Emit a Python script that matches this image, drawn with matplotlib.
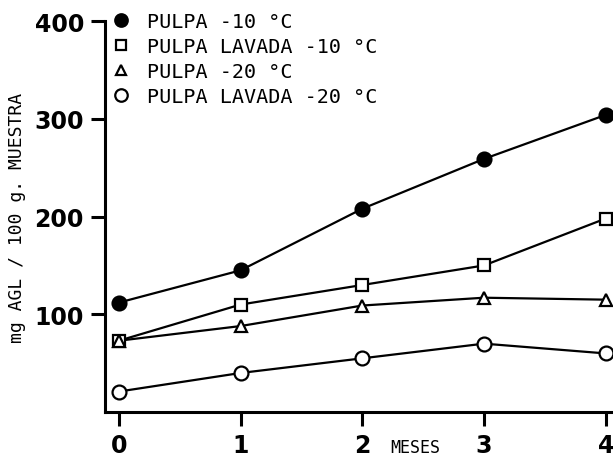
import matplotlib
matplotlib.use("Agg")
import matplotlib.pyplot as plt

meses = [0, 1, 2, 3, 4]
pulpa_10 = [112, 145, 208, 259, 304]
lavada_10 = [73, 110, 130, 150, 198]
pulpa_20 = [73, 88, 109, 117, 115]
lavada_20 = [21, 40, 55, 70, 60]

labels = ["PULPA -10 °C", "PULPA LAVADA -10 °C", "PULPA -20 °C", "PULPA LAVADA -20 °C"]
yticks = [100, 200, 300, 400]
xticks = [0, 1, 2, 3, 4]

fig = plt.figure(figsize=(6.13, 4.6), dpi=100)
ax = fig.add_axes([0.171, 0.102, 0.829, 0.85])

series = [
    (pulpa_10, "o", "black", 10),
    (lavada_10, "s", "white", 8),
    (pulpa_20, "^", "white", 8),
    (lavada_20, "o", "white", 10),
]
handles = []
for (vals, mk, fc, ms), lab in zip(series, labels):
    ax.plot(meses, vals, color="black", lw=1.6, zorder=2)
    ax.plot(meses, vals, ls="none", marker=mk, ms=ms, mfc=fc, mec="black",
            mew=1.6, zorder=3)
    h, = ax.plot([], [], ls="none", marker=mk, ms=ms * 0.9, mfc=fc,
                 mec="black", mew=1.6, label=lab)
    handles.append(h)

ax.set_xlim(-0.115, 4.06)
ax.set_ylim(0, 400)
ax.set_xticks(xticks)
ax.set_yticks(yticks)
ax.set_xticklabels([str(x) for x in xticks])
ax.set_yticklabels([str(y) for y in yticks])
for s in ["top", "right"]:
    ax.spines[s].set_visible(False)
ax.spines["left"].set_linewidth(2.2)
ax.spines["bottom"].set_linewidth(2.2)
ax.tick_params(axis="both", direction="out", length=10, width=2.2,
               labelsize=17, pad=5)
for t in ax.get_xticklabels() + ax.get_yticklabels():
    t.set_fontweight("bold")

ax.set_ylabel("mg AGL / 100 g. MUESTRA", family="DejaVu Sans Mono",
              fontsize=13, labelpad=6)
fig.text(0.678, 0.006, "MESES", family="DejaVu Sans Mono", fontsize=12,
         ha="center", va="bottom")

ax.legend(handles=handles, loc="upper left", frameon=False,
          bbox_to_anchor=(-0.02, 1.07), handlelength=0.8, handletextpad=0.9,
          labelspacing=0.3,
          prop={"family": "DejaVu Sans Mono", "size": 14.5})

fig.savefig("out.png", dpi=100)
